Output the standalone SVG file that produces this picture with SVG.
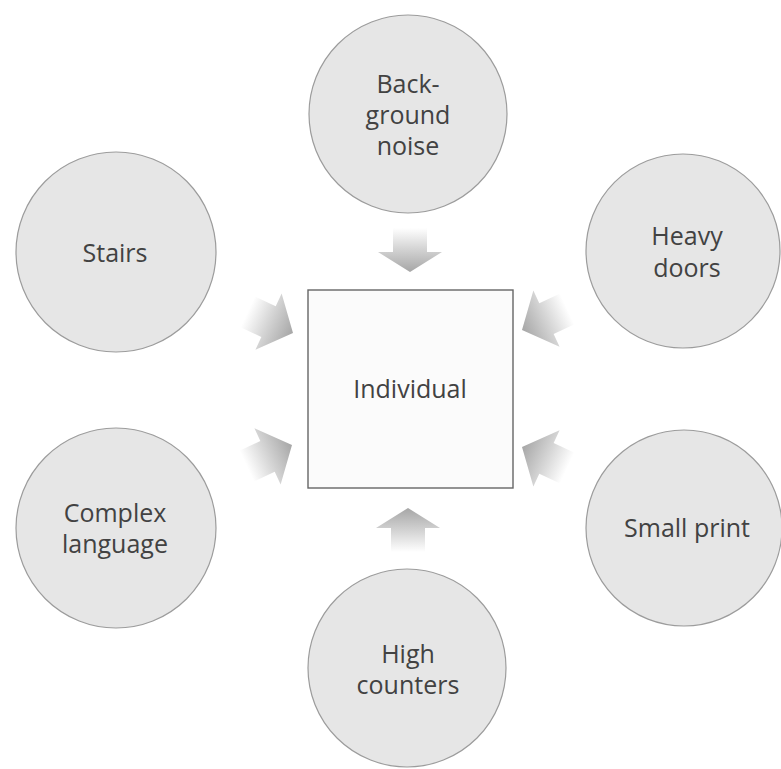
<svg xmlns="http://www.w3.org/2000/svg" width="781" height="769" viewBox="0 0 781 769">
<style>
.node circle{fill:#e6e6e6;stroke:#9c9c9c;stroke-width:1.2}
.box{fill:#fbfbfb;stroke:#666666;stroke-width:1.4}
text{font-family:"Open Sans","Noto Sans","DejaVu Sans",sans-serif;font-size:25px;fill:#424242;text-anchor:middle}
.arrow{fill:url(#ag)}
.arrow2{fill:url(#ag2)}
</style>
<defs>
<linearGradient id="ag" gradientUnits="userSpaceOnUse" x1="-44" y1="0" x2="0" y2="0">
<stop offset="0" stop-color="#ffffff"/>
<stop offset="0.45" stop-color="#d6d6d6"/>
<stop offset="1" stop-color="#a6a6a6"/>
</linearGradient>
<linearGradient id="ag2" gradientUnits="userSpaceOnUse" x1="-50" y1="0" x2="0" y2="0">
<stop offset="0" stop-color="#ffffff"/>
<stop offset="0.45" stop-color="#d6d6d6"/>
<stop offset="1" stop-color="#a6a6a6"/>
</linearGradient>
<path id="arr" d="M-44,-17 L-20,-17 L-20,-32 L0,0 L-20,32 L-20,17 L-44,17 Z"/>
<path id="arr2" d="M-50,-17 L-27,-17 L-27,-31 L0,0 L-27,31 L-27,17 L-50,17 Z"/>
</defs>
<rect width="781" height="769" fill="#ffffff"/>
<g id="connectors">
<use href="#arr" class="arrow" transform="translate(410,272) rotate(90)"/>
<use href="#arr" class="arrow" transform="translate(408,508) rotate(-90)"/>
<use href="#arr2" class="arrow2" transform="translate(293,333) rotate(25)"/>
<use href="#arr2" class="arrow2" transform="translate(292,445) rotate(-25)"/>
<use href="#arr2" class="arrow2" transform="translate(522,330) rotate(155)"/>
<use href="#arr2" class="arrow2" transform="translate(522,447) rotate(205)"/>
</g>
<g id="individual" class="node">
<rect class="box" x="308" y="290" width="205" height="198"/>
<text x="410" y="398">Individual</text>
</g>
<g id="background-noise" class="node">
<circle cx="408" cy="114" r="99"/>
<text x="408" y="93">Back-</text>
<text x="408" y="124">ground</text>
<text x="408" y="155">noise</text>
</g>
<g id="stairs" class="node">
<circle cx="116" cy="252" r="100"/>
<text x="115" y="262">Stairs</text>
</g>
<g id="heavy-doors" class="node">
<circle cx="683" cy="251" r="97"/>
<text x="687" y="245">Heavy</text>
<text x="687" y="277">doors</text>
</g>
<g id="complex-language" class="node">
<circle cx="116" cy="528" r="100"/>
<text x="115" y="522">Complex</text>
<text x="115" y="553">language</text>
</g>
<g id="small-print" class="node">
<circle cx="684" cy="528" r="98"/>
<text x="687" y="537">Small print</text>
</g>
<g id="high-counters" class="node">
<circle cx="407" cy="668" r="99"/>
<text x="408" y="663">High</text>
<text x="408" y="694">counters</text>
</g>
</svg>
